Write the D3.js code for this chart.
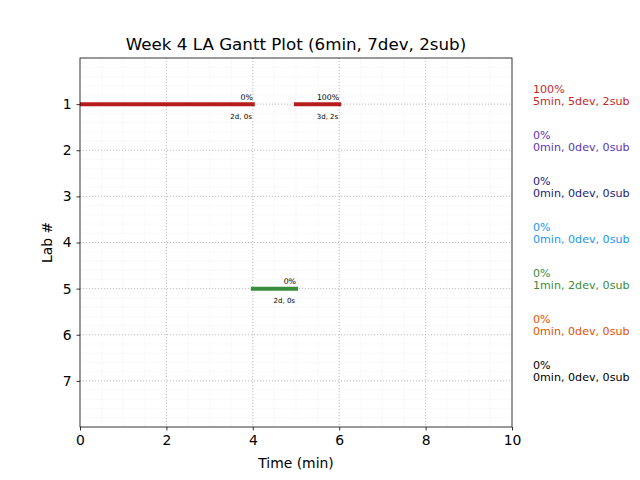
<!DOCTYPE html>
<html><head><meta charset="utf-8">
<script src="https://cdn.jsdelivr.net/npm/d3@7"></script>
<style>body{margin:0;background:#fff}text{font-family:"DejaVu Sans",sans-serif}</style>
</head><body><svg id="c" width="640" height="480"></svg>
<script>
const labs = [1,2,3,4,5,6,7];
const labColors = ["#c62828","#5e35b1","#1a237e","#2196f3","#388e3c","#e65100","#000000"];
const barColors = ["#b71c1c","#5e35b1","#1a237e","#2196f3","#388e3c","#e65100","#000000"];
// segments: lab, start, end, percent, label below
const segLab   = [1, 1, 5];
const segStart = [0, 5, 4];
const segEnd   = [4, 6, 5];
const segPct   = ["0%", "100%", "0%"];
const segInfo  = ["2d, 0s", "3d, 2s", "2d, 0s"];
const sumPct = ["100%","0%","0%","0%","0%","0%","0%"];
const sumInfo = ["5min, 5dev, 2sub","0min, 0dev, 0sub","0min, 0dev, 0sub","0min, 0dev, 0sub","1min, 2dev, 0sub","0min, 0dev, 0sub","0min, 0dev, 0sub"];
const xTicks = [0,2,4,6,8,10];

const svg = d3.select("#c");
const L=80, R=512, T=58, B=427;
const x = d3.scaleLinear().domain([0,10]).range([L,R]);
const y = d3.scaleLinear().domain([0,8]).range([T,B]);

svg.append("clipPath").attr("id","pa").append("rect").attr("x",L).attr("y",T).attr("width",R-L).attr("height",B-T);

// minor grid
const g = svg.append("g");
g.selectAll(".mx").data(d3.range(0.5,10,0.5)).join("line")
  .attr("x1",d=>x(d)).attr("x2",d=>x(d)).attr("y1",T).attr("y2",B)
  .attr("stroke","#f5f5f5").attr("stroke-width",0.6);
g.selectAll(".my").data(d3.range(0.2,8,0.2)).join("line")
  .attr("y1",d=>y(d)).attr("y2",d=>y(d)).attr("x1",L).attr("x2",R)
  .attr("stroke","#f5f5f5").attr("stroke-width",0.6);
// major grid
g.selectAll(".Mx").data(xTicks.slice(1,-1)).join("line")
  .attr("x1",d=>x(d)).attr("x2",d=>x(d)).attr("y1",T).attr("y2",B)
  .attr("stroke","#b0b0b0").attr("stroke-width",0.8).attr("stroke-dasharray","1,2");
g.selectAll(".My").data(labs).join("line")
  .attr("y1",d=>y(d)).attr("y2",d=>y(d)).attr("x1",L).attr("x2",R)
  .attr("stroke","#b0b0b0").attr("stroke-width",0.8).attr("stroke-dasharray","1,2");

// bars
const segs = segLab.map((l,i)=>({l, s:segStart[i], e:segEnd[i], p:segPct[i], info:segInfo[i]}));
svg.append("g").attr("clip-path","url(#pa)").selectAll(".bar").data(segs).join("line")
  .attr("x1",d=>x(d.s)).attr("x2",d=>x(d.e)).attr("y1",d=>y(d.l)).attr("y2",d=>y(d.l))
  .attr("stroke",d=>barColors[d.l-1]).attr("stroke-width",4).attr("stroke-linecap","square");
svg.selectAll(".pt").data(segs).join("text")
  .attr("x",d=>x(d.e)).attr("y",d=>y(d.l)-4.5).attr("text-anchor","end")
  .attr("font-size",7.8).attr("fill","#000").text(d=>d.p);
svg.selectAll(".it").data(segs).join("text")
  .attr("x",d=>x(d.e)-1).attr("y",d=>y(d.l)+14.5).attr("text-anchor","end")
  .attr("font-size",7).attr("fill","#000").text(d=>d.info);

// axes
const xa = svg.append("g").attr("transform",`translate(0,${B})`)
  .call(d3.axisBottom(x).tickValues(xTicks).tickFormat(d3.format("d")).tickSize(3.5).tickPadding(5));
const ya = svg.append("g").attr("transform",`translate(${L},0)`)
  .call(d3.axisLeft(y).tickValues(labs).tickSize(3.5).tickPadding(5));
[xa,ya].forEach(a=>{a.select(".domain").remove();a.selectAll("text").attr("font-size",13.9).attr("font-family","DejaVu Sans").attr("fill","#000");a.selectAll("line").attr("stroke","#000").attr("stroke-width",0.8);});
svg.append("rect").attr("x",L).attr("y",T).attr("width",R-L).attr("height",B-T)
  .attr("fill","none").attr("stroke","#000").attr("stroke-width",0.8);

// titles
svg.append("text").attr("x",(L+R)/2).attr("y",50).attr("text-anchor","middle").attr("font-size",16.7).text("Week 4 LA Gantt Plot (6min, 7dev, 2sub)");
svg.append("text").attr("x",(L+R)/2).attr("y",468).attr("text-anchor","middle").attr("font-size",13.9).text("Time (min)");
svg.append("text").attr("transform",`translate(52,${(T+B)/2}) rotate(-90)`).attr("text-anchor","middle").attr("font-size",13.9).text("Lab #");

// right summaries
const sg = svg.selectAll(".sum").data(labs).join("text")
  .attr("font-size",11.1).attr("fill",(d,i)=>labColors[i]);
sg.append("tspan").attr("x",533).attr("y",d=>y(d)-11.5).text((d,i)=>sumPct[i]);
sg.append("tspan").attr("x",533).attr("y",d=>y(d)+0.5).text((d,i)=>sumInfo[i]);
</script></body></html>
